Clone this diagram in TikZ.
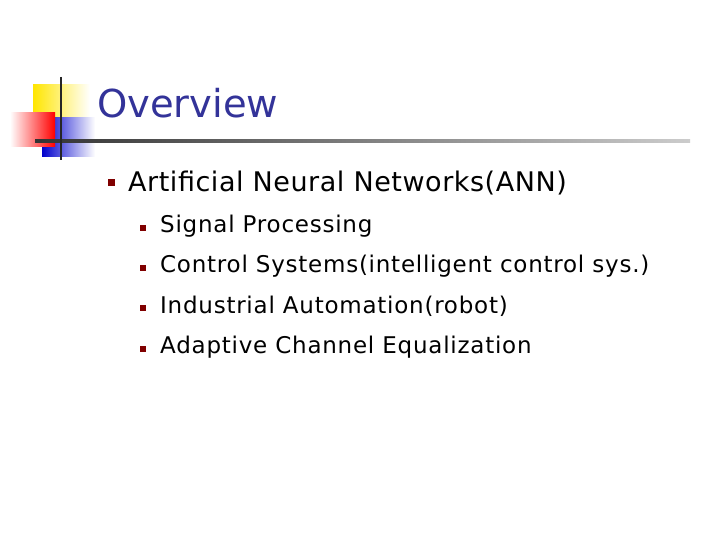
\documentclass[tikz,border=0pt]{standalone}
\usepackage{fontspec}
\setmainfont{DejaVu Sans}
\newfontfamily\tonea[LetterSpace=2]{DejaVu Sans}
\newfontfamily\ttwoa[LetterSpace=3.3]{DejaVu Sans}
\definecolor{navy}{RGB}{51,51,153}
\definecolor{bulc}{RGB}{128,0,0}
\begin{document}
\begin{tikzpicture}[x=1pt,y=-1pt,
  bul/.style={fill=bulc,minimum size=7pt,inner sep=0pt},
  t1/.style={anchor=west,font=\tonea\fontsize{27}{32}\selectfont,inner sep=0pt},
  t2/.style={anchor=west,font=\ttwoa\fontsize{23}{27}\selectfont,inner sep=0pt}]
\useasboundingbox[fill=white] (0,0) rectangle (720,540);
\fill[left color=yellow!80!orange,right color=white] (33,85) rectangle (90,118);
\fill[left color=blue!80!black,right color=white] (42,118) rectangle (95,157);
\fill[left color=white,right color=red] (10,113) rectangle (55,147);
\fill[left color=black!80,right color=black!20] (35,140) rectangle (690,142.5);
\draw[line width=2pt,black!85] (61,77) -- (61,160);
\node[anchor=west,inner sep=0pt,text=navy,font=\fontsize{38.5}{46}\selectfont] (title) at (97,103) {Overview};
\node[bul] (b0) at (111,183) {};
\node[t1] (l0) at (128,183) {Artificial Neural Networks(ANN)};
\foreach \y/\t [count=\i] in {226/Signal Processing,266/Control Systems(intelligent control sys.),306/Industrial Automation(robot),347/Adaptive Channel Equalization}{
  \node[bul,minimum size=6pt] (s\i) at (143,\y+2) {};
  \node[t2] (l\i) at (160,\y) {\t};
}
\end{tikzpicture}
\end{document}
